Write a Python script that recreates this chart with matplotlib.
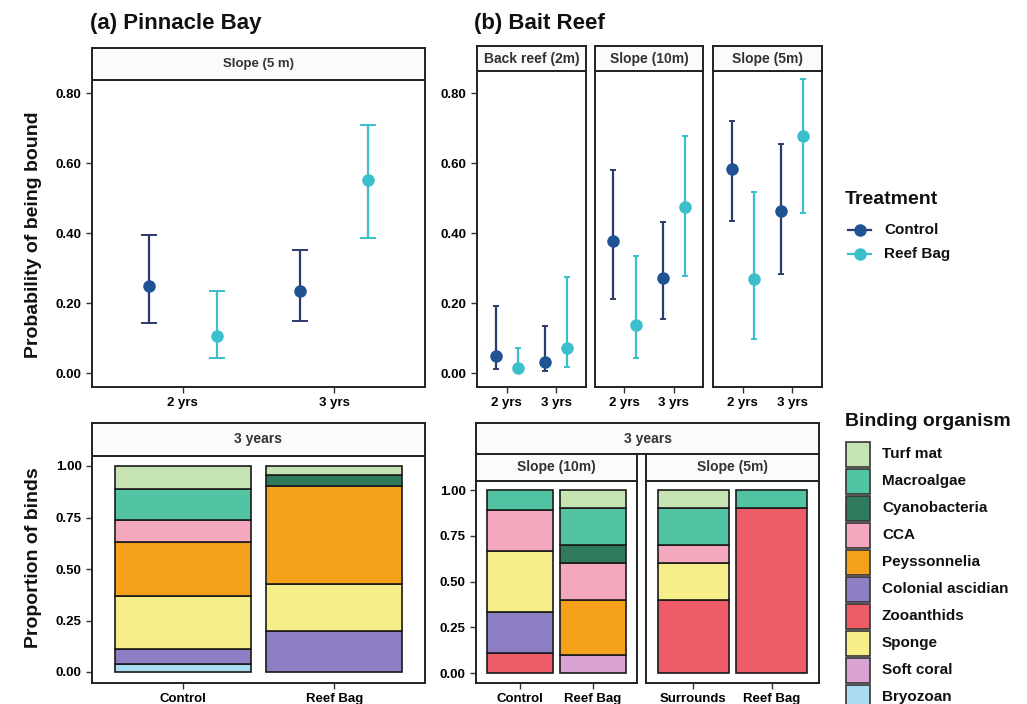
import matplotlib
matplotlib.use("Agg")
import matplotlib.pyplot as plt
from matplotlib.patches import Rectangle
from matplotlib.lines import Line2D
import numpy as np

plt.rcParams["font.family"] = ["Liberation Sans", "DejaVu Sans"]

# ---------------- data ----------------
years = ["2 yrs", "3 yrs"]
treatments = ["Control", "Reef Bag"]

# (a) Pinnacle Bay, Slope (5 m): estimate, lower, upper
pb_ctrl = [0.248, 0.235]
pb_ctrl_lo = [0.144, 0.149]
pb_ctrl_hi = [0.394, 0.351]
pb_bag = [0.106, 0.552]
pb_bag_lo = [0.043, 0.385]
pb_bag_hi = [0.234, 0.709]

# (b) Bait Reef sites
bait_sites = ["Back reef (2m)", "Slope (10m)", "Slope (5m)"]
br_ctrl = [[0.049, 0.032], [0.377, 0.272], [0.582, 0.463]]
br_ctrl_lo = [[0.012, 0.006], [0.211, 0.154], [0.434, 0.284]]
br_ctrl_hi = [[0.192, 0.135], [0.580, 0.432], [0.719, 0.654]]
br_bag = [[0.013, 0.072], [0.138, 0.474], [0.268, 0.676]]
br_bag_lo = [[0.002, 0.017], [0.043, 0.277], [0.098, 0.456]]
br_bag_hi = [[0.072, 0.275], [0.334, 0.678], [0.516, 0.841]]

# binding organisms (legend order) and stacking order (bottom -> top)
legend_order = ["Turf mat", "Macroalgae", "Cyanobacteria", "CCA", "Peyssonnelia",
                "Colonial ascidian", "Zooanthids", "Sponge", "Soft coral", "Bryozoan"]
stack_order = ["Bryozoan", "Soft coral", "Zooanthids", "Colonial ascidian", "Sponge",
               "Peyssonnelia", "CCA", "Cyanobacteria", "Macroalgae", "Turf mat"]
org_colors = {
    "Turf mat": "#c6e4b2",
    "Macroalgae": "#52c3a3",
    "Cyanobacteria": "#2f7a5d",
    "CCA": "#f4a8bd",
    "Peyssonnelia": "#f6a11c",
    "Colonial ascidian": "#8e7ec3",
    "Zooanthids": "#ee5c67",
    "Sponge": "#f6ee88",
    "Soft coral": "#d9a3d4",
    "Bryozoan": "#a9dcf1",
}

# proportions per bar, in stack_order
pb_labels = ["Control", "Reef Bag"]
pb_control_props = [0.037, 0, 0, 0.074, 0.259, 0.259, 0.111, 0, 0.148, 0.111]
pb_reefbag_props = [0, 0, 0, 0.200, 0.225, 0.480, 0, 0.052, 0, 0.043]

s10_labels = ["Control", "Reef Bag"]
s10_control_props = [0, 0, 0.111, 0.222, 0.333, 0, 0.222, 0, 0.111, 0]
s10_reefbag_props = [0, 0.1, 0, 0, 0, 0.3, 0.2, 0.1, 0.2, 0.1]

s5_labels = ["Surrounds", "Reef Bag"]
s5_surrounds_props = [0, 0, 0.4, 0, 0.2, 0, 0.1, 0, 0.2, 0.1]
s5_reefbag_props = [0, 0, 0.9, 0, 0, 0, 0, 0, 0.1, 0]

# ---------------- styling ----------------
W, H = 1027, 704
CTRL_PT = "#1f5394"
CTRL_BAR = "#2d3b6c"
BAG = "#3bbfcc"
TICK_FS = 9.5

fig = plt.figure(figsize=(W / 100, H / 100), dpi=100)


def add_px_axes(x0, x1, y0, y1):
    return fig.add_axes([x0 / W, 1 - y1 / H, (x1 - x0) / W, (y1 - y0) / H])


def style_axes(ax, show_y):
    for s in ax.spines.values():
        s.set_linewidth(1.4)
        s.set_color("#222222")
    ax.tick_params(length=4, width=1, color="#333333", labelsize=TICK_FS)
    if not show_y:
        ax.tick_params(axis="y", length=0, labelleft=False)
    for lab in ax.get_xticklabels() + ax.get_yticklabels():
        lab.set_fontweight("bold")


def strip(x0, x1, y0, y1, text, fs=9.5):
    ax = add_px_axes(x0, x1, y0, y1)
    ax.set_xticks([])
    ax.set_yticks([])
    ax.set_facecolor("#fbfbfb")
    for s in ax.spines.values():
        s.set_linewidth(1.4)
        s.set_color("#222222")
    ax.text(0.5, 0.5, text, ha="center", va="center", fontsize=fs,
            fontweight="bold", color="#333333", transform=ax.transAxes)
    return ax


def point_panel(ax, ctrl, clo, chi, bag, blo, bhi, cap, ylim, show_y):
    x = np.arange(1, len(years) + 1)
    d = 0.225
    ax.errorbar(x - d, ctrl, yerr=[np.array(ctrl) - np.array(clo), np.array(chi) - np.array(ctrl)],
                fmt="none", ecolor=CTRL_BAR, elinewidth=1.6, capsize=cap, capthick=1.4, zorder=2)
    ax.plot(x - d, ctrl, "o", color=CTRL_PT, ms=8, zorder=3)
    ax.errorbar(x + d, bag, yerr=[np.array(bag) - np.array(blo), np.array(bhi) - np.array(bag)],
                fmt="none", ecolor=BAG, elinewidth=1.6, capsize=cap, capthick=1.4, zorder=2)
    ax.plot(x + d, bag, "o", color=BAG, ms=8, zorder=3)
    ax.set_xlim(0.4, 2.6)
    ax.set_ylim(*ylim)
    ax.set_xticks(x)
    ax.set_xticklabels(years)
    ax.set_yticks([0, 0.2, 0.4, 0.6, 0.8])
    ax.set_yticklabels(["0.00", "0.20", "0.40", "0.60", "0.80"])
    style_axes(ax, show_y)


def bar_panel(ax, labels, bars, ylim, show_y):
    x = np.arange(1, len(labels) + 1)
    for xi, props in zip(x, bars):
        bottom = 0.0
        for org, p in zip(stack_order, props):
            if p <= 0:
                continue
            ax.bar(xi, p, bottom=bottom, width=0.9, color=org_colors[org],
                   edgecolor="#1a1a1a", linewidth=1.2, zorder=2)
            bottom += p
    ax.set_xlim(0.4, 2.6)
    ax.set_ylim(*ylim)
    ax.set_xticks(x)
    ax.set_xticklabels(labels)
    ax.set_yticks([0, 0.25, 0.5, 0.75, 1.0])
    ax.set_yticklabels(["0.00", "0.25", "0.50", "0.75", "1.00"])
    style_axes(ax, show_y)


# ---------------- top row: probability of being bound ----------------
# px scale: 0.00 at y=373, 0.80 at y=93
def ylim_px(top_px, bottom_px, y0_px=373, y1_px=93, v1=0.8):
    per = (y0_px - y1_px) / v1
    return (-(bottom_px - y0_px) / per, v1 + (y1_px - top_px) / per)


ax_a = add_px_axes(92, 425, 80, 387)
point_panel(ax_a, pb_ctrl, pb_ctrl_lo, pb_ctrl_hi, pb_bag, pb_bag_lo, pb_bag_hi,
            cap=6, ylim=ylim_px(80, 387), show_y=True)
strip(92, 425, 48, 80, "Slope (5 m)")

bait_x = [(477, 586), (595, 703), (713, 822)]
for i, (x0, x1) in enumerate(bait_x):
    ax = add_px_axes(x0, x1, 71, 387)
    point_panel(ax, br_ctrl[i], br_ctrl_lo[i], br_ctrl_hi[i], br_bag[i], br_bag_lo[i], br_bag_hi[i],
                cap=2.2, ylim=ylim_px(71, 387), show_y=(i == 0))
    strip(x0, x1, 46, 71, bait_sites[i], fs=10)

fig.text(90 / W, 1 - 23 / H, "(a) Pinnacle Bay", fontsize=16, fontweight="bold",
         ha="left", va="center", color="#111111")
fig.text(474 / W, 1 - 23 / H, "(b) Bait Reef", fontsize=16, fontweight="bold",
         ha="left", va="center", color="#111111")
fig.text(34 / W, 1 - 235 / H, "Probability of being bound", rotation=90, fontsize=14,
         fontweight="bold", ha="center", va="center", color="#111111")

# ---------------- bottom row: proportion of binds ----------------
def ylim_bar(top_px, bottom_px, y0_px, y1_px):
    per = (y0_px - y1_px)
    return (-(bottom_px - y0_px) / per, 1 + (y1_px - top_px) / per)


ax_c = add_px_axes(92, 425, 456, 683)
bar_panel(ax_c, pb_labels, [pb_control_props, pb_reefbag_props],
          ylim_bar(456, 683, 672, 466), show_y=True)
strip(92, 425, 423, 456, "3 years", fs=10)

ax_d1 = add_px_axes(476, 637, 481, 683)
bar_panel(ax_d1, s10_labels, [s10_control_props, s10_reefbag_props],
          ylim_bar(481, 683, 673, 490), show_y=True)
ax_d2 = add_px_axes(646, 819, 481, 683)
bar_panel(ax_d2, s5_labels, [s5_surrounds_props, s5_reefbag_props],
          ylim_bar(481, 683, 673, 490), show_y=False)
strip(476, 819, 423, 454, "3 years", fs=10)
strip(476, 637, 454, 481, "Slope (10m)", fs=10)
strip(646, 819, 454, 481, "Slope (5m)", fs=10)

fig.text(34 / W, 1 - 558 / H, "Proportion of binds", rotation=90, fontsize=14,
         fontweight="bold", ha="center", va="center", color="#111111")

# ---------------- legends (drawn in pixel space) ----------------
lg = fig.add_axes([0, 0, 1, 1], facecolor="none")
lg.set_xlim(0, W)
lg.set_ylim(H, 0)
lg.axis("off")

lg.text(845, 200, "Treatment", fontsize=14, fontweight="bold", ha="left", va="center",
        color="#111111")
for yy, lab, col, lcol in [(230, "Control", CTRL_PT, CTRL_BAR), (254, "Reef Bag", BAG, BAG)]:
    lg.add_line(Line2D([848, 871], [yy, yy], color=lcol, lw=1.6))
    lg.plot([859.5], [yy], "o", color=col, ms=8)
    lg.text(884, yy, lab, fontsize=11, fontweight="bold", ha="left", va="center",
            color="#111111")

lg.text(845, 422, "Binding organism", fontsize=14, fontweight="bold", ha="left", va="center",
        color="#111111")
for k, org in enumerate(legend_order):
    y0 = 441 + 27 * k
    lg.add_patch(Rectangle((846, y0 + 1), 24, 25, facecolor=org_colors[org],
                           edgecolor="#333333", linewidth=1.2))
    lg.text(882, y0 + 13, org, fontsize=11, fontweight="bold", ha="left", va="center",
            color="#111111")

fig.savefig("out.png", dpi=100)
